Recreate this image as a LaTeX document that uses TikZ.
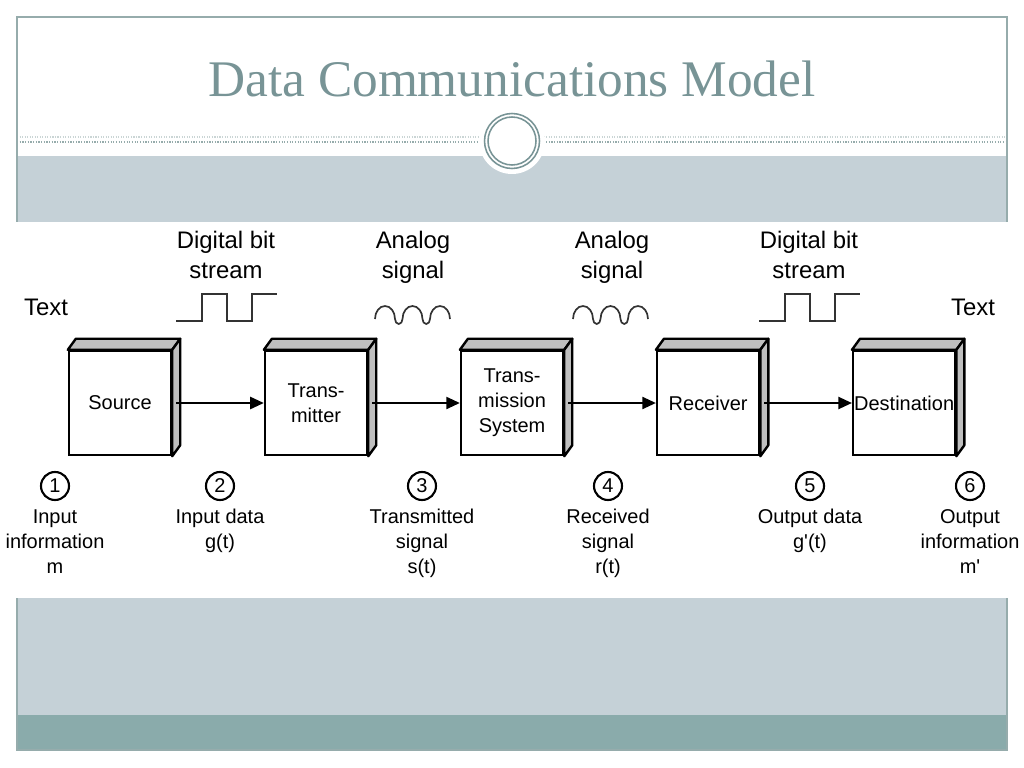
\documentclass[tikz,border=0pt]{standalone}
\usepackage{fontspec}
\setmainfont{Liberation Sans}[Ligatures=TeXOff]
\newfontfamily\titlefont{Liberation Serif}
\usetikzlibrary{positioning,calc,arrows.meta}
\definecolor{bandlight}{RGB}{197,209,215}
\definecolor{banddark}{RGB}{138,171,171}
\definecolor{titlegray}{RGB}{120,148,150}
\definecolor{framegray}{RGB}{150,172,172}

\tikzset{
	block/.style={draw, line width=1.7pt, fill=white, minimum width=2.55cm,
		minimum height=2.6cm, inner sep=0pt, align=center,
		font=\fontsize{14.2}{17.8}\selectfont},
	face/.style={draw, line width=1.7pt, fill=black!25, line join=round},
	flow/.style={line width=1.6pt, -{Triangle[length=0.34cm, width=0.3cm]}},
	num/.style={draw, circle, line width=1.5pt, minimum size=0.7cm, inner sep=0pt,
		font=\fontsize{14.2}{17}\selectfont},
	caption/.style={align=center, inner sep=0pt, font=\fontsize{14.2}{17.8}\selectfont},
	heading/.style={align=center, inner sep=0pt, font=\fontsize{17}{21.3}\selectfont},
	wave/.style={line width=1.2pt, black!80}
}

\begin{document}
\begin{tikzpicture}[x=0.025cm, y=-0.025cm]

	\useasboundingbox (0,0) rectangle (1024,768);
	\fill[white] (0,0) rectangle (1024,768);

	% Slide background
	\fill[bandlight] (17,156) rectangle (1007,715);
	\fill[banddark] (17,715) rectangle (1007,750);
	\draw[framegray!50, densely dotted, line width=0.8pt] (17,137) -- (1007,137);
	\draw[framegray, densely dotted, line width=0.9pt] (17,142) -- (1007,142);
	\draw[framegray, line width=0.9pt] (17,17) rectangle (1007,750);
	\fill[white] (512,141) circle (33);
	\draw[titlegray, line width=1.1pt] (512,141) circle (27.5);
	\draw[titlegray, line width=1.1pt] (512,141) circle (24);
	\fill[white] (0,222) rectangle (1024,598);

	\node[anchor=base, text=titlegray, font=\titlefont\fontsize{36.5}{40}\selectfont]
		(title) at (512,97) {Data Communications Model};

	% Blocks
	\node[block] (src) at (120,403) {Source};
	\node[block, right=2.29cm of src] (tx) {Trans-\\mitter};
	\node[block, right=2.29cm of tx] (sys) {Trans-\\mission\\System};
	\node[block, right=2.29cm of sys] (rx) {Receiver};
	\node[block, right=2.29cm of rx] (dst) {Destination};

	\foreach \b in {src,tx,sys,rx,dst} {
		\draw[face] (\b.north west) -- ++(8,-11) -- ($(\b.north east)+(8,-11)$)
			-- (\b.north east) -- cycle;
		\draw[face] (\b.north east) -- ++(8,-11) -- ($(\b.south east)+(8,-11)$)
			-- (\b.south east) -- cycle;
	}

	\draw[flow] ([xshift=0.1cm]src.east) -- (tx.west);
	\draw[flow] ([xshift=0.1cm]tx.east) -- (sys.west);
	\draw[flow] ([xshift=0.1cm]sys.east) -- (rx.west);
	\draw[flow] ([xshift=0.1cm]rx.east) -- (dst.west);

	% Signals above the links
	\node[anchor=base] (textin) at (46,315) {\fontsize{17}{21}\selectfont Text};
	\node[anchor=base] (textout) at (973,315) {\fontsize{17}{21}\selectfont Text};
	\node[heading, anchor=north] (bits1) at (226,231) {Digital bit\\stream};
	\node[heading, anchor=north] (ana1) at (413,231) {Analog\\signal};
	\node[heading, anchor=north] (ana2) at (612,231) {Analog\\signal};
	\node[heading, anchor=north] (bits2) at (809,231) {Digital bit\\stream};

	\foreach \s in {0,583} {
		\draw[wave] (176+\s,321) -- (202+\s,321) -- (202+\s,294) -- (227+\s,294)
			-- (227+\s,321) -- (252+\s,321) -- (252+\s,294) -- (277+\s,294);
	}
	\foreach \s in {0,198} {
		\draw[wave] (375+\s,319)
			arc[start angle=180, end angle=360, x radius=10, y radius=13]
			arc[start angle=180, end angle=0, x radius=3.75, y radius=5]
			arc[start angle=180, end angle=360, x radius=10, y radius=13]
			arc[start angle=180, end angle=0, x radius=3.75, y radius=5]
			arc[start angle=180, end angle=360, x radius=10, y radius=13];
	}

	% Numbered points
	\foreach \x/\i in {55/1,220/2,422/3,608/4,810/5,970/6}
		\node[num] (n\i) at (\x,486) {\i};

	\node[caption, below=0.2cm of n1] (c1) {Input\\information\\m};
	\node[caption, below=0.2cm of n2] (c2) {Input data\\g(t)};
	\node[caption, below=0.2cm of n3] (c3) {Transmitted\\signal\\s(t)};
	\node[caption, below=0.2cm of n4] (c4) {Received\\signal\\r(t)};
	\node[caption, below=0.2cm of n5] (c5) {Output data\\g'(t)};
	\node[caption, below=0.2cm of n6] (c6) {Output\\information\\m'};

\end{tikzpicture}
\end{document}
